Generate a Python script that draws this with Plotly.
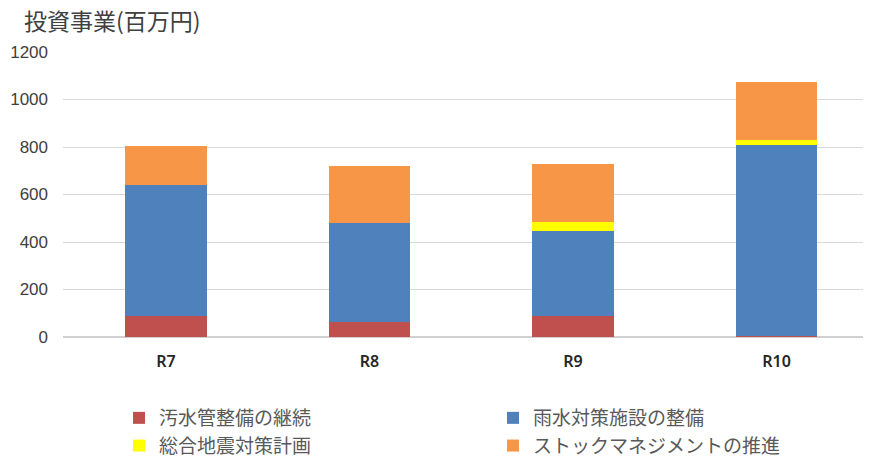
import plotly.graph_objects as go

categories = ["R7", "R8", "R9", "R10"]
sewer = [90, 62, 88, 4]          # 汚水管整備の継続
rain = [548, 419, 358, 804]      # 雨水対策施設の整備
quake = [0, 0, 37, 21]           # 総合地震対策計画
stock = [168, 241, 247, 244]     # ストックマネジメントの推進
y_ticks = [0, 200, 400, 600, 800, 1000, 1200]

names = ["汚水管整備の継続", "雨水対策施設の整備", "総合地震対策計画", "ストックマネジメントの推進"]
colors = ["#c0504d", "#4f81bd", "#ffff00", "#f79646"]
legends = ["legend", "legend2", "legend", "legend2"]
series = [sewer, rain, quake, stock]

W, H = 863, 453   # page body has an 8px margin

fig = go.Figure()
for name, vals, col, lg in zip(names, series, colors, legends):
    fig.add_trace(go.Bar(
        x=categories, y=vals, name=name, marker=dict(color=col, line=dict(width=0)),
        width=0.4, legend=lg, legendgroup=name,
    ))

JP = "Noto Sans CJK JP"
legend_common = dict(
    orientation="v", xref="container", yref="container",
    xanchor="left", yanchor="top", bgcolor="rgba(0,0,0,0)",
    font=dict(family=JP, size=19, color="#595959"),
    itemwidth=30, tracegroupgap=20, traceorder="normal",
)

fig.update_layout(
    width=W, height=H,
    margin=dict(l=55, r=1, t=44, b=123.5, autoexpand=False),
    paper_bgcolor="white", plot_bgcolor="white",
    barmode="stack", bargap=0.6,
    showlegend=True,
    title=dict(text="投資事業(百万円)", x=16/W, xanchor="left", xref="container",
               y=1-13.5/H, yanchor="middle", yref="container",
               font=dict(family=JP, size=23, color="#404040")),
    xaxis=dict(range=[-0.506, 3.459], showgrid=False, showline=False, ticks="",
               tickfont=dict(family="Noto Sans", size=16, color="#262626", weight=600),
               ticklabelstandoff=13, fixedrange=True, automargin=False),
    yaxis=dict(range=[0, 1200], tickvals=y_ticks, showgrid=True, gridcolor="#d9d9d9",
               gridwidth=1.3, zeroline=True, zerolinecolor="#d0d0d0", zerolinewidth=1.5,
               showline=False, ticks="", ticklabelstandoff=14,
               tickfont=dict(family="Liberation Sans", size=17, color="#404040"),
               fixedrange=True, automargin=False),
    legend=dict(x=111/W, y=1-391/H, **legend_common),
    legend2=dict(x=485/W, y=1-391/H, **legend_common),
)

fig.write_html("out.html")
